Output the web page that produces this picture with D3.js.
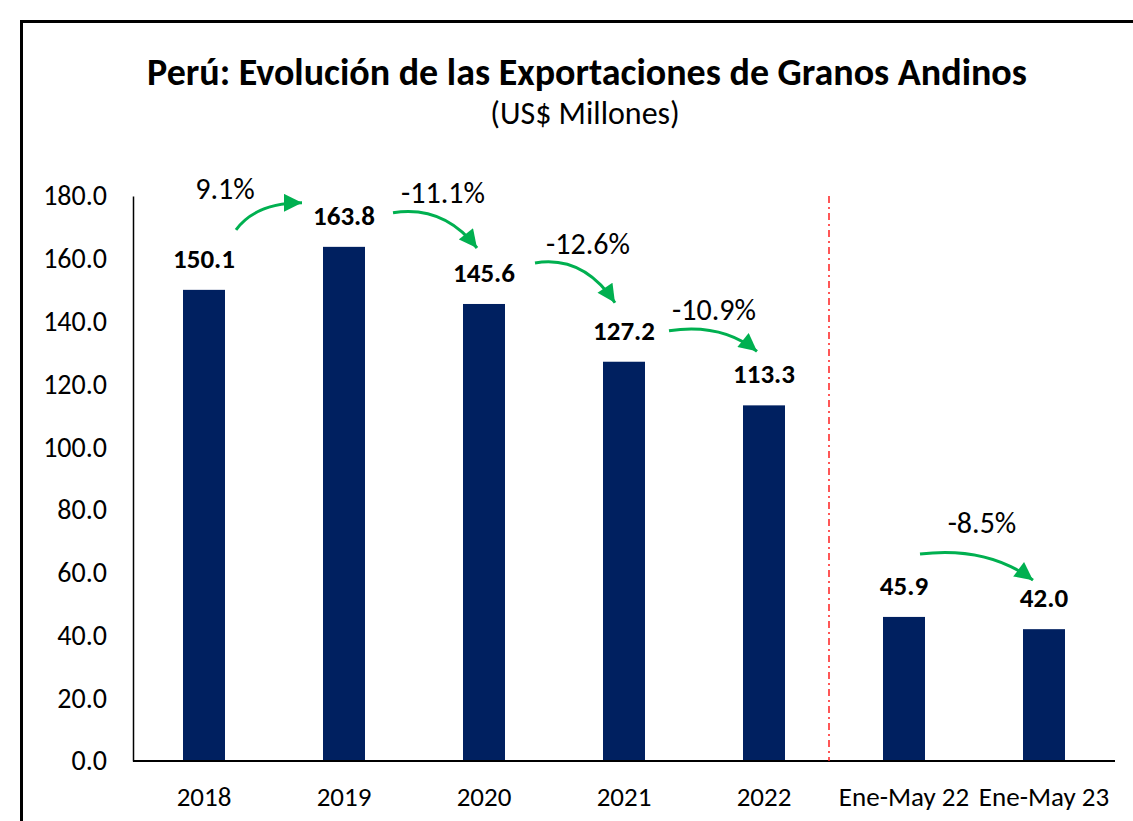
<!DOCTYPE html>
<html><head><meta charset="utf-8">
<script src="https://cdn.jsdelivr.net/npm/d3@7"></script>
<style>body{margin:0;background:#fff;} svg{display:block;font-family:Carlito,Lato,"Open Sans",sans-serif;}</style>
</head><body>
<svg id="c" width="1133" height="821"></svg>
<script>
const categories = ["2018","2019","2020","2021","2022","Ene-May 22","Ene-May 23"];
const values = [150.1,163.8,145.6,127.2,113.3,45.9,42.0];
const valueLabels = ["150.1","163.8","145.6","127.2","113.3","45.9","42.0"];
const yTicks = [0,20,40,60,80,100,120,140,160,180];
const changeFrom = [0,1,2,3,5];
const changeLabels = ["9.1%","-11.1%","-12.6%","-10.9%","-8.5%"];

const svg = d3.select("#c");
const W = 1133, H = 821;
svg.append("rect").attr("width",W).attr("height",H).attr("fill","#fff");
svg.append("rect").attr("x",21.5).attr("y",21.5).attr("width",1200).attr("height",900)
  .attr("fill","none").attr("stroke","#000").attr("stroke-width",3);

const x = d3.scaleBand().domain(categories).range([134,1114]).paddingInner(0.7).paddingOuter(0.35);
const y = d3.scaleLinear().domain([0,180]).range([761,196]);
const cx = c => x(c) + x.bandwidth()/2;

svg.append("text").attr("x",587).attr("y",85).attr("text-anchor","middle")
  .attr("font-size",38).attr("font-weight","bold").text("Perú: Evolución de las Exportaciones de Granos Andinos");
svg.append("text").attr("x",585).attr("y",124).attr("text-anchor","middle")
  .attr("font-size",32).text("(US$ Millones)");

// y axis
const ya = svg.append("g").attr("transform","translate(133,0)")
  .call(d3.axisLeft(y).tickValues(yTicks).tickFormat(d3.format(".1f")).tickSize(0).tickPadding(26));
ya.select(".domain").attr("stroke","#000").attr("stroke-width",1.5);
ya.selectAll("text").attr("font-size",28).attr("font-family","Carlito,Lato,sans-serif").attr("fill","#000");

// bars
svg.append("g").selectAll("rect").data(values).join("rect")
  .attr("x",(d,i)=>x(categories[i])).attr("width",x.bandwidth())
  .attr("y",d=>y(d)).attr("height",d=>y(0)-y(d)).attr("fill","#002060");

// x axis
const xa = svg.append("g").attr("transform","translate(0,761)")
  .call(d3.axisBottom(x).tickSize(0).tickPadding(26));
xa.select(".domain").attr("stroke","#000").attr("stroke-width",2).attr("d","M133,0H1115");
xa.selectAll("text").attr("font-size",27).attr("font-family","Carlito,Lato,sans-serif").attr("fill","#000");

// divider
const xDiv = (cx(categories[4]) + cx(categories[5]))/2 - 5;
svg.append("line").attr("x1",xDiv).attr("x2",xDiv).attr("y1",y(180)).attr("y2",y(0))
  .attr("stroke","#ff2020").attr("stroke-width",1.5).attr("stroke-dasharray","7,4,2,4");

// value labels
svg.append("g").selectAll("text").data(values).join("text")
  .attr("x",(d,i)=>cx(categories[i])).attr("y",d=>y(d)-22).attr("text-anchor","middle")
  .attr("font-size",27).attr("font-weight","bold").text((d,i)=>valueLabels[i]);

// arrows
const green = "#00B050";
svg.append("defs").append("marker").attr("id","ah").attr("viewBox","0 0 10 10")
  .attr("refX",10).attr("refY",5).attr("markerWidth",6.5).attr("markerHeight",6)
  .attr("markerUnits","strokeWidth").attr("orient","auto")
  .append("path").attr("d","M0,0L10,5L0,10Z").attr("fill",green);
const off = [
  {s:[32,-60], e:[-42,-44], l:[-11,-31], rise:true},
  {s:[49,-34], e:[-7,-56], l:[50,-10]},
  {s:[51,-41], e:[-9,-59], l:[53,-9]},
  {s:[45,-31], e:[-7,-54], l:[45,-11]},
  {s:[16,-63], e:[-11,-49], l:[62,-21]}
];
changeFrom.forEach((i,k)=>{
  const o = off[k];
  const sx = cx(categories[i])+o.s[0], sy = y(values[i])+o.s[1];
  const ex = cx(categories[i+1])+o.e[0], ey = y(values[i+1])+o.e[1];
  let qx, qy;
  if (o.rise){ qx = sx + 0.3*(ex-sx); qy = ey; }
  else { qx = sx + 0.6*(ex-sx); qy = sy - 8; }
  svg.append("path").attr("d",`M${sx},${sy}Q${qx},${qy} ${ex},${ey}`)
    .attr("fill","none").attr("stroke",green).attr("stroke-width",3).attr("marker-end","url(#ah)");
  svg.append("text").attr("x",sx+o.l[0]).attr("y",sy+o.l[1]).attr("text-anchor","middle")
    .attr("font-size",30).text(changeLabels[k]);
});
</script>
</body></html>
